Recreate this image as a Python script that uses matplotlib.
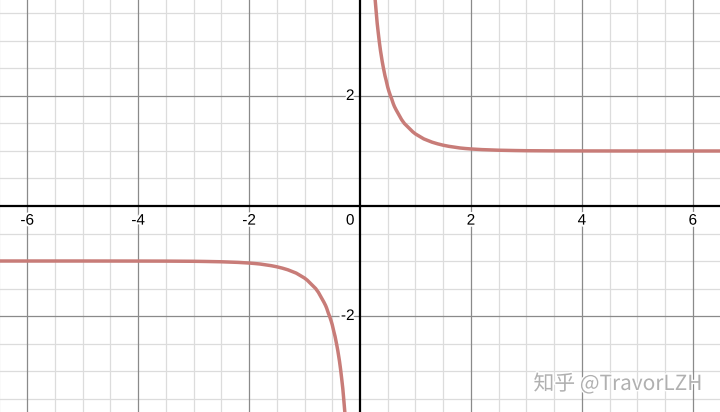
import matplotlib
matplotlib.use("Agg")
import matplotlib.pyplot as plt
import matplotlib.patheffects as pe
import numpy as np

# Curve values (upper branch, x>0)
upper_x = [0.27, 0.29, 0.31, 0.33, 0.35, 0.37, 0.40, 0.42, 0.45, 0.47, 0.50, 0.52, 0.55, 0.57,
           0.60, 0.62, 0.65, 0.70, 0.75, 0.80, 0.85, 0.90, 0.95, 1.00, 1.05, 1.10, 1.15, 1.20,
           1.30, 1.40, 1.50, 1.60, 1.70, 1.80, 1.90, 2.00, 2.20, 2.50, 2.80, 3.00, 3.50, 4.00,
           5.00, 6.60]
upper_y = [3.79, 3.55, 3.32, 3.14, 2.97, 2.82, 2.63, 2.52, 2.37, 2.29, 2.16, 2.09, 2.00, 1.95,
           1.86, 1.81, 1.75, 1.66, 1.57, 1.50, 1.45, 1.40, 1.35, 1.31, 1.28, 1.25, 1.22, 1.20,
           1.16, 1.13, 1.105, 1.085, 1.07, 1.055, 1.045, 1.037, 1.025, 1.014, 1.008, 1.005,
           1.002, 1.001, 1.0, 1.0]
# Lower branch, x<0
lower_x = [-6.60, -5.00, -4.00, -3.50, -3.00, -2.80, -2.50, -2.20, -2.00, -1.90, -1.80, -1.70,
           -1.60, -1.50, -1.40, -1.30, -1.20, -1.15, -1.10, -1.05, -1.00, -0.95, -0.90, -0.85,
           -0.80, -0.75, -0.70, -0.65, -0.62, -0.60, -0.57, -0.55, -0.52, -0.50, -0.47, -0.45,
           -0.42, -0.40, -0.37, -0.35, -0.33, -0.31, -0.29, -0.27]
lower_y = [-1.0, -1.0, -1.001, -1.002, -1.005, -1.008, -1.014, -1.025, -1.037, -1.045, -1.055,
           -1.07, -1.085, -1.105, -1.13, -1.16, -1.20, -1.22, -1.25, -1.28, -1.31, -1.35, -1.40,
           -1.45, -1.50, -1.57, -1.66, -1.75, -1.81, -1.86, -1.95, -2.00, -2.09, -2.16, -2.29,
           -2.37, -2.52, -2.63, -2.82, -2.97, -3.14, -3.32, -3.55, -3.79]

x_ticks = [-6, -4, -2, 2, 4, 6]
y_ticks = [-2, 2]
xlim = (-6.49, 6.49)
ylim = (-3.745, 3.745)

fig = plt.figure(figsize=(7.2, 4.12), dpi=100)
ax = fig.add_axes([0, 0, 1, 1])
ax.set_xlim(*xlim)
ax.set_ylim(*ylim)
ax.axis("off")

# grid
minor = np.arange(-7, 7.01, 0.5)
for v in minor:
    major = abs(v / 2 - round(v / 2)) < 1e-9
    if abs(v) < 1e-9:
        continue
    c = "#8a8a8a" if major else "#dcdcdc"
    ax.axvline(v, color=c, lw=0.9, zorder=1 if major else 0)
    ax.axhline(v, color=c, lw=0.9, zorder=1 if major else 0)

ax.axhline(0, color="black", lw=1.6, zorder=2)
ax.axvline(0, color="black", lw=1.6, zorder=2)

curve_color = "#c87c78"
ax.plot(upper_x, upper_y, color=curve_color, lw=2.5, zorder=3, solid_joinstyle="round")
ax.plot(lower_x, lower_y, color=curve_color, lw=2.5, zorder=3, solid_joinstyle="round")

halo = [pe.withStroke(linewidth=3, foreground="white")]
font = dict(family=["Liberation Sans", "DejaVu Sans"], fontsize=11, color="black")
for t in x_ticks:
    ax.annotate(str(t), (t, 0), xytext=(0, -5.5), textcoords="offset points",
                ha="center", va="top", path_effects=halo, zorder=4, **font)
for t in y_ticks:
    ax.annotate(str(t), (0, t), xytext=(-4, 0), textcoords="offset points",
                ha="right", va="center", path_effects=halo, zorder=4, **font)
ax.annotate("0", (0, 0), xytext=(-4, -5.5), textcoords="offset points",
            ha="right", va="top", path_effects=halo, zorder=4, **font)

fig.text(0.976, 0.068, "知乎 @TravorLZH", ha="right", va="center",
         family=["Noto Sans CJK SC", "DejaVu Sans"], fontsize=15, color="#b0b0b0",
         path_effects=[pe.withStroke(linewidth=2, foreground="white")], zorder=5)

fig.savefig("out.png", dpi=100)
